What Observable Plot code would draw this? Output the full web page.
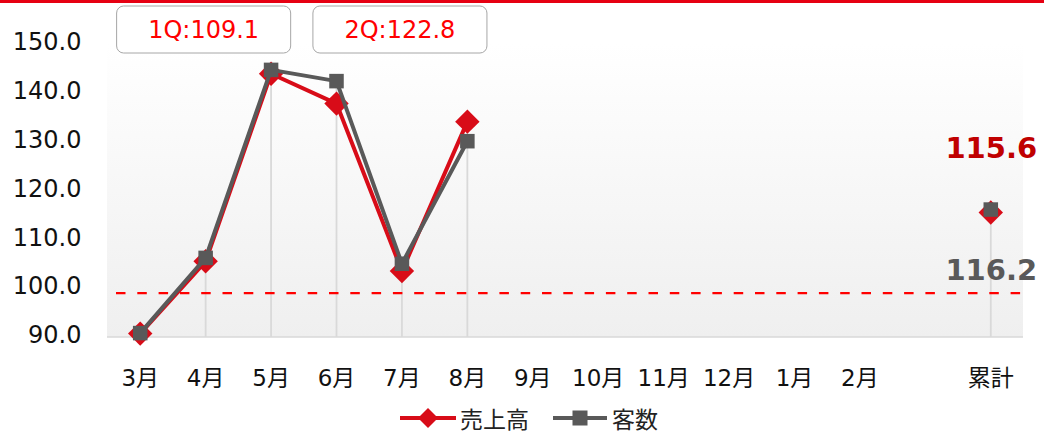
<!DOCTYPE html>
<html><head><meta charset="utf-8">
<script src="https://cdn.jsdelivr.net/npm/d3@7"></script>
<script src="https://cdn.jsdelivr.net/npm/@observablehq/plot@0.6"></script>
<style>
body{margin:0;background:#fff;font-family:"DejaVu Sans","Noto Sans CJK JP",sans-serif;}
#wrap{position:relative;width:1044px;height:433px;overflow:hidden}
#topbar{position:absolute;left:0;top:0;width:1044px;height:3px;background:#e60012}
#legend{position:absolute;left:0;top:400px;width:1044px;height:33px;font-size:23px;color:#222}
.li{position:absolute;top:1px;height:33px;display:flex;align-items:center}
</style></head><body>
<div id="wrap"><div id="chart"></div><div id="topbar"></div><div id="legend"></div></div>
<script>
// ---- data ----
const months = ["3月","4月","5月","6月","7月","8月","9月","10月","11月","12月","1月","2月"," ","累計"];
const salesMonths = ["3月","4月","5月","6月","7月","8月"];
const sales = [90.8, 105.6, 144.0, 137.9, 103.6, 134.2];
const customers = [90.9, 106.3, 144.8, 142.5, 105.1, 130.2];
const totalLabel = "累計";
const totalSales = 115.6;
const totalCustomers = 116.2;
const quarterLabels = ["1Q:109.1", "2Q:122.8"];
const quarterCenters = ["4月", "7月"];
const yTicks = [90, 100, 110, 120, 130, 140, 150];
const baseline = 99.1;
const seriesNames = ["売上高", "客数"];

const RED = "#d80c18", GRAY = "#595959";

const monthly = salesMonths.map((m, i) => ({month: m, sales: sales[i], customers: customers[i]}));
const total = [{month: totalLabel, sales: totalSales, customers: totalCustomers}];
const allPts = monthly.concat(total);
const quarters = quarterLabels.map((t, i) => ({label: t, center: quarterCenters[i]}));

const W = 1044, H = 400;

const background = (index, scales, values, dims) => {
  const g = d3.create("svg:g");
  const defs = g.append("defs");
  const lg = defs.append("linearGradient").attr("id", "bgGrad").attr("x1", 0).attr("x2", 0).attr("y1", 0).attr("y2", 1);
  lg.append("stop").attr("offset", "0%").attr("stop-color", "#ffffff");
  lg.append("stop").attr("offset", "100%").attr("stop-color", "#efefef");
  const x0 = dims.marginLeft, x1 = dims.width - dims.marginRight;
  const y0 = dims.marginTop, y1 = dims.height - dims.marginBottom;
  g.append("rect").attr("x", x0).attr("y", y0).attr("width", x1 - x0).attr("height", y1 - y0).attr("fill", "url(#bgGrad)");
  g.append("line").attr("x1", x0).attr("x2", x1).attr("y1", y1).attr("y2", y1).attr("stroke", "#d9d9d9").attr("stroke-width", 1.5);
  return g.node();
};

const quarterBoxes = (index, scales, values, dims) => {
  const g = d3.create("svg:g");
  const step = scales.x("4月") - scales.x("3月");
  const bw = step * 2.66, top = dims.marginTop - 38, bh = 47;
  for (const q of quarters) {
    const cx = scales.x(q.center) - 1.5;
    g.append("rect").attr("x", cx - bw / 2).attr("y", top).attr("width", bw).attr("height", bh)
      .attr("rx", 7).attr("fill", "#fff").attr("stroke", "#a6a6a6").attr("stroke-width", 1);
    g.append("text").attr("x", cx).attr("y", top + bh / 2 + 1).attr("text-anchor", "middle")
      .attr("dominant-baseline", "middle").attr("fill", "#ff0000").attr("font-size", 24)
      .attr("font-family", '"DejaVu Sans", sans-serif').text(q.label);
  }
  return g.node();
};

const chart = Plot.plot({
  width: W, height: H,
  marginLeft: 107, marginRight: 21, marginTop: 44, marginBottom: 63,
  style: {fontFamily: '"DejaVu Sans","Noto Sans CJK JP",sans-serif', background: "transparent", overflow: "visible"},
  x: {type: "point", domain: months, padding: 0.5, round: false, label: null},
  y: {domain: [90, 150], label: null},
  marks: [
    background,
    Plot.ruleX(allPts, {x: "month", y1: 90, y2: d => Math.max(d.sales, d.customers), stroke: "#d9d9d9", strokeWidth: 1.8}),
    Plot.ruleY([baseline], {stroke: "#ff0000", strokeWidth: 2.3, strokeDasharray: "9.5,11.8", insetLeft: 9, insetRight: 1}),
    Plot.line(monthly, {x: "month", y: "sales", stroke: RED, strokeWidth: 4}),
    Plot.dot(allPts, {x: "month", y: "sales", symbol: "diamond2", r: 11, fill: RED, stroke: "none"}),
    Plot.line(monthly, {x: "month", y: "customers", stroke: GRAY, strokeWidth: 4}),
    Plot.dot(allPts, {x: "month", y: "customers", symbol: "square", r: 8.2, fill: GRAY, stroke: "none"}),
    Plot.text(total, {x: "month", y: "sales", text: d => d.sales.toFixed(1), dy: -64, dx: 0.5, fill: "#c00000", fontSize: 29, fontWeight: "bold"}),
    Plot.text(total, {x: "month", y: "customers", text: d => d.customers.toFixed(1), dy: 61, dx: 0.5, fill: GRAY, fontSize: 29, fontWeight: "bold"}),
    quarterBoxes,
    Plot.axisY({ticks: yTicks, tickFormat: d => d.toFixed(1), tickSize: 0, tickPadding: 26, fontSize: 24, dy: -2, color: "#111", label: null}),
    Plot.axisX({tickSize: 0, tickPadding: 32, fontSize: 23, color: "#111", tickFormat: d => d, label: null})
  ]
});
document.getElementById("chart").appendChild(chart);

// legend
const legend = d3.select("#legend");
const li1 = legend.append("div").attr("class", "li").style("left", "400px");
const s1 = li1.append("svg").attr("width", 56).attr("height", 24);
s1.append("line").attr("x1", 0).attr("x2", 56).attr("y1", 12).attr("y2", 12).attr("stroke", RED).attr("stroke-width", 4);
s1.append("path").attr("d", "M28,2L38,12L28,22L18,12Z").attr("fill", RED);
li1.append("span").style("margin-left", "4px").text(seriesNames[0]);
const li2 = legend.append("div").attr("class", "li").style("left", "553px");
const s2 = li2.append("svg").attr("width", 54).attr("height", 24);
s2.append("line").attr("x1", 0).attr("x2", 54).attr("y1", 12).attr("y2", 12).attr("stroke", GRAY).attr("stroke-width", 4);
s2.append("rect").attr("x", 19.5).attr("y", 4.5).attr("width", 15).attr("height", 15).attr("fill", GRAY);
li2.append("span").style("margin-left", "5px").text(seriesNames[1]);
</script>
</body></html>
